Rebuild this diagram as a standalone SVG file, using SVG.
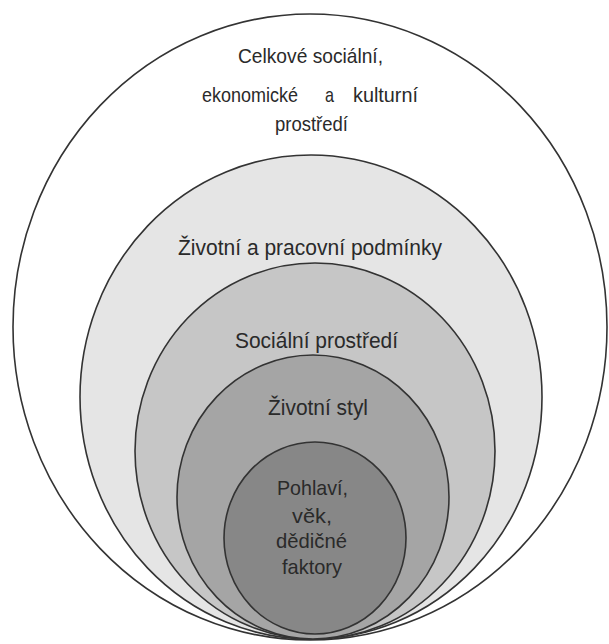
<svg xmlns="http://www.w3.org/2000/svg" width="609" height="644" viewBox="0 0 609 644">
<style>
.ring{stroke:#333;stroke-width:1.6}
.lbl{font-family:"Liberation Sans",Arial,sans-serif;fill:#2a2a2a}
.big{font-size:22px}
.mid{font-size:21px}
</style>
<rect width="609" height="644" fill="#fff"/>
<g id="ring1">
<ellipse class="ring" cx="310" cy="327" rx="297" ry="313" fill="#ffffff"/>
<text class="lbl mid" x="238" y="63" textLength="145" lengthAdjust="spacingAndGlyphs">Celkové sociální,</text>
<text class="lbl mid" x="202" y="102" textLength="96" lengthAdjust="spacingAndGlyphs">ekonomické</text>
<text class="lbl mid" x="325" y="102" textLength="9" lengthAdjust="spacingAndGlyphs">a</text>
<text class="lbl mid" x="353" y="102" textLength="65" lengthAdjust="spacingAndGlyphs">kulturní</text>
<text class="lbl mid" x="275" y="131" textLength="73" lengthAdjust="spacingAndGlyphs">prostředí</text>
</g>
<g id="ring2">
<ellipse class="ring" cx="311" cy="397" rx="231" ry="242" fill="#e5e5e5"/>
<text class="lbl big" x="178" y="255" textLength="264" lengthAdjust="spacingAndGlyphs">Životní a pracovní podmínky</text>
</g>
<g id="ring3">
<ellipse class="ring" cx="315" cy="451" rx="180" ry="188" fill="#c6c6c6"/>
<text class="lbl big" x="235" y="348" textLength="163" lengthAdjust="spacingAndGlyphs">Sociální prostředí</text>
</g>
<g id="ring4">
<ellipse class="ring" cx="313" cy="497" rx="136" ry="142" fill="#a5a5a5"/>
<text class="lbl big" x="268" y="415" textLength="100" lengthAdjust="spacingAndGlyphs">Životní styl</text>
</g>
<g id="ring5">
<ellipse class="ring" cx="315" cy="538" rx="91" ry="96" fill="#878787"/>
<text class="lbl mid" x="277" y="495" textLength="71" lengthAdjust="spacingAndGlyphs">Pohlaví,</text>
<text class="lbl mid" x="292" y="523" textLength="40" lengthAdjust="spacingAndGlyphs">věk,</text>
<text class="lbl mid" x="276" y="548" textLength="71" lengthAdjust="spacingAndGlyphs">dědičné</text>
<text class="lbl mid" x="282" y="574" textLength="60" lengthAdjust="spacingAndGlyphs">faktory</text>
</g>
<g id="connectors"/>
</svg>
